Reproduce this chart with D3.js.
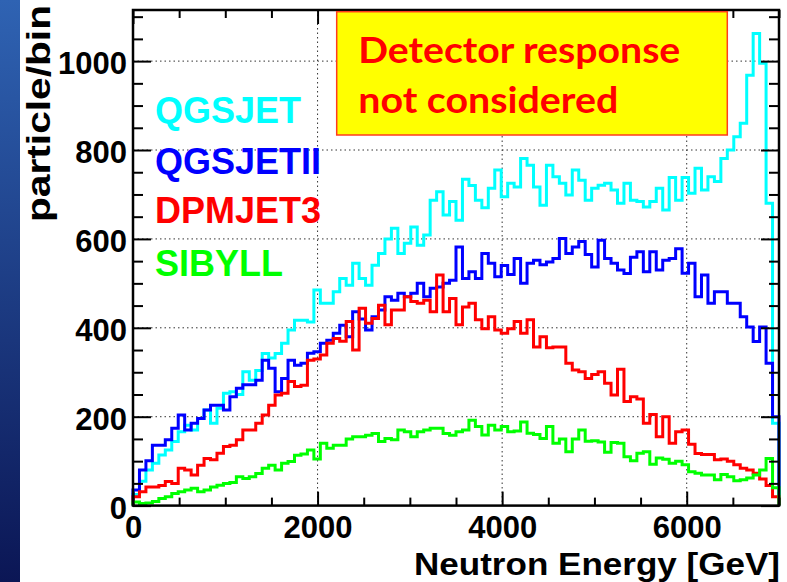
<!DOCTYPE html>
<html>
<head>
<meta charset="utf-8">
<script src="https://cdn.jsdelivr.net/npm/d3@7"></script>
<style>
  html, body { margin: 0; padding: 0; background: #ffffff; }
  svg { display: block; }
</style>
</head>
<body>
<svg id="chart" width="787" height="582"></svg>
<script>
// ---------------- data ----------------
const binWidth = 70;               // GeV per bin
const energyMax = 7000;            // GeV
const seriesNames = ["QGSJET", "QGSJETII", "DPMJET3", "SIBYLL"];
const seriesColors = ["#00ffff", "#0000ff", "#ff0000", "#00ff00"];

const qgsjet = [
  25, 55, 80, 95, 114, 125, 144, 166, 181, 170,
  196, 215, 185, 219, 253, 256, 250, 301, 282, 304,
  342, 332, 342, 365, 395, 417, 417, 413, 485, 455,
  455, 481, 511, 496, 545, 511, 496, 541, 567, 600,
  624, 567, 590, 627, 586, 609, 687, 706, 654, 684,
  642, 734, 720, 687, 670, 714, 755, 695, 725, 717,
  781, 766, 717, 676, 766, 740, 725, 699, 755, 732,
  687, 714, 721, 725, 710, 680, 725, 687, 684, 672,
  684, 714, 665, 738, 687, 738, 703, 759, 710, 740,
  729, 781, 800, 830, 860, 968, 1062, 995, 680, 185
];
const qgsjetII = [
  35, 80, 101, 136, 136, 148, 174, 204, 170, 185,
  196, 215, 226, 226, 215, 245, 264, 272, 272, 282,
  327, 309, 256, 286, 327, 316, 320, 343, 346, 365,
  372, 388, 406, 380, 436, 420, 395, 425, 440, 470,
  462, 478, 470, 478, 500, 470, 489, 492, 500, 507,
  582, 511, 526, 511, 567, 545, 515, 540, 520, 556,
  500, 545, 552, 542, 548, 556, 601, 567, 582, 594,
  565, 537, 597, 556, 545, 530, 522, 559, 571, 526,
  571, 530, 552, 556, 578, 523, 545, 470, 519, 455,
  481, 481, 455, 455, 425, 402, 369, 402, 320, 200
];
const dpmjet3 = [
  20, 31, 42, 42, 45, 54, 50, 84, 80, 69,
  91, 106, 103, 118, 133, 136, 148, 170, 170, 185,
  204, 226, 249, 253, 279, 268, 271, 327, 330, 339,
  365, 376, 370, 414, 350, 444, 410, 421, 451, 407,
  440, 440, 470, 459, 455, 462, 436, 519, 436, 466,
  407, 447, 455, 418, 398, 425, 395, 388, 398, 414,
  388, 418, 357, 380, 355, 357, 357, 320, 305, 301,
  286, 295, 301, 275, 249, 307, 234, 245, 240, 185,
  205, 155, 200, 140, 166, 170, 138, 117, 115, 115,
  103, 105, 100, 92, 84, 80, 73, 60, 45, 20
];
const sibyll = [
  8, 5, 6, 9, 16, 20, 27, 31, 35, 39,
  31, 35, 42, 46, 50, 52, 65, 61, 65, 72,
  84, 91, 80, 95, 99, 113, 116, 125, 105, 140,
  129, 136, 136, 150, 155, 155, 158, 162, 144, 151,
  148, 170, 166, 155, 166, 170, 174, 174, 162, 158,
  166, 170, 192, 178, 159, 181, 170, 178, 166, 168,
  188, 163, 160, 151, 178, 140, 150, 121, 150, 170,
  145, 146, 143, 120, 142, 140, 110, 101, 118, 121,
  93, 107, 104, 95, 100, 92, 76, 73, 69, 69,
  58, 70, 65, 56, 58, 62, 69, 80, 106, 40
];
const xMajorTicks = [0, 2000, 4000, 6000];
const yMajorTicks = [0, 200, 400, 600, 800, 1000];
const xTitle = "Neutron Energy [GeV]";
const yTitle = "particle/bin";
const noteLines = ["Detector response", "not considered"];

// ---------------- layout ----------------
const svg = d3.select("#chart");
const W = 787, H = 582;
const plot = { left: 133, right: 779, top: 10, bottom: 505.6 };
const yMax = 1115;

const x = d3.scaleLinear().domain([0, energyMax]).range([plot.left, plot.right]);
const y = d3.scaleLinear().domain([0, yMax]).range([plot.bottom, plot.top]);

// background strip on the left (slide background)
const defs = svg.append("defs");
const grad = defs.append("linearGradient").attr("id", "slideGrad")
  .attr("x1", 0).attr("y1", 0).attr("x2", 0).attr("y2", 1);
grad.append("stop").attr("offset", "0%").attr("stop-color", "#2f63b3");
grad.append("stop").attr("offset", "100%").attr("stop-color", "#0b1655");
svg.append("rect").attr("x", 0).attr("y", 0).attr("width", W).attr("height", H).attr("fill", "#ffffff");
svg.append("rect").attr("x", 0).attr("y", 0).attr("width", 20).attr("height", H).attr("fill", "url(#slideGrad)");

// grid
const gridG = svg.append("g");
gridG.selectAll("line.gx").data(xMajorTicks.filter(d => d > 0)).join("line")
  .attr("x1", d => x(d)).attr("x2", d => x(d))
  .attr("y1", plot.top).attr("y2", plot.bottom)
  .attr("stroke", "#333").attr("stroke-width", 1).attr("stroke-dasharray", "1.5,3");
gridG.selectAll("line.gy").data(yMajorTicks.filter(d => d > 0)).join("line")
  .attr("x1", plot.left).attr("x2", plot.right)
  .attr("y1", d => y(d)).attr("y2", d => y(d))
  .attr("stroke", "#333").attr("stroke-width", 1).attr("stroke-dasharray", "1.5,3");

// histograms
const allSeries = [qgsjet, qgsjetII, dpmjet3, sibyll];
const line = d3.line().x(d => x(d[0])).y(d => y(d[1])).curve(d3.curveStepAfter);
allSeries.forEach((vals, k) => {
  const pts = [[0, 0]];
  vals.forEach((v, i) => pts.push([i * binWidth, v]));
  pts.push([energyMax, vals[vals.length - 1]]);
  pts.push([energyMax, 0]);
  svg.append("path").datum(pts)
    .attr("d", line)
    .attr("fill", "none")
    .attr("stroke", seriesColors[k])
    .attr("stroke-width", 3)
    .attr("stroke-linejoin", "miter");
});

// axes (ROOT style ticks inside frame)
const fontFam = "'Liberation Sans', Arial, Helvetica, sans-serif";
const yMinor = d3.range(0, yMax, 50).filter(v => !yMajorTicks.includes(v));
const xMinor = d3.range(0, energyMax + 1, 500).filter(v => !xMajorTicks.includes(v));

function styleAxis(g) {
  g.select(".domain").remove();
  g.selectAll(".tick line").attr("stroke", "#000").attr("stroke-width", 2);
}

svg.append("g").attr("transform", `translate(${plot.left},0)`)
  .call(d3.axisLeft(y).tickValues(yMajorTicks).tickSize(-18).tickPadding(6).tickFormat(d3.format("d")))
  .call(styleAxis)
  .call(g => g.selectAll("text").attr("font-family", fontFam).attr("font-weight", "bold")
    .attr("font-size", 31).attr("fill", "#000").attr("dy", "0.40em"));
svg.append("g").attr("transform", `translate(${plot.left},0)`)
  .call(d3.axisLeft(y).tickValues(yMinor).tickSize(-10).tickFormat(""))
  .call(styleAxis);
svg.append("g").attr("transform", `translate(${plot.right},0)`)
  .call(d3.axisRight(y).tickValues(yMajorTicks).tickSize(-18).tickFormat(""))
  .call(styleAxis);
svg.append("g").attr("transform", `translate(${plot.right},0)`)
  .call(d3.axisRight(y).tickValues(yMinor).tickSize(-10).tickFormat(""))
  .call(styleAxis);

svg.append("g").attr("transform", `translate(0,${plot.bottom})`)
  .call(d3.axisBottom(x).tickValues(xMajorTicks).tickSize(-14).tickPadding(4).tickFormat(d3.format("d")))
  .call(styleAxis)
  .call(g => g.selectAll("text").attr("font-family", fontFam).attr("font-weight", "bold")
    .attr("font-size", 31).attr("fill", "#000").attr("dy", "0.92em"));
svg.append("g").attr("transform", `translate(0,${plot.bottom})`)
  .call(d3.axisBottom(x).tickValues(xMinor).tickSize(-8).tickFormat(""))
  .call(styleAxis);
svg.append("g").attr("transform", `translate(0,${plot.top})`)
  .call(d3.axisTop(x).tickValues(xMajorTicks).tickSize(-14).tickFormat(""))
  .call(styleAxis);
svg.append("g").attr("transform", `translate(0,${plot.top})`)
  .call(d3.axisTop(x).tickValues(xMinor).tickSize(-8).tickFormat(""))
  .call(styleAxis);

// frame
svg.append("rect")
  .attr("x", plot.left).attr("y", plot.top)
  .attr("width", plot.right - plot.left).attr("height", plot.bottom - plot.top)
  .attr("fill", "none").attr("stroke", "#000").attr("stroke-width", 2.5);

// axis titles
svg.append("text")
  .attr("transform", "translate(50,222) rotate(-90)")
  .attr("font-family", fontFam).attr("font-weight", "bold").attr("font-size", 34)
  .attr("textLength", 217).attr("lengthAdjust", "spacingAndGlyphs")
  .attr("fill", "#000").text(yTitle);
svg.append("text")
  .attr("x", 780).attr("y", 575).attr("text-anchor", "end")
  .attr("font-family", fontFam).attr("font-weight", "bold").attr("font-size", 32)
  .attr("textLength", 366).attr("lengthAdjust", "spacingAndGlyphs")
  .attr("fill", "#000").text(xTitle);

// legend labels
const legendY = [122.7, 174.3, 222.7, 276];
seriesNames.forEach((name, k) => {
  svg.append("text")
    .attr("x", 155).attr("y", legendY[k])
    .attr("font-family", fontFam).attr("font-weight", "bold").attr("font-size", 36)
    .attr("fill", seriesColors[k]).text(name);
});

// note box
svg.append("rect")
  .attr("x", 336.7).attr("y", 11.7).attr("width", 727.3 - 336.7).attr("height", 135 - 11.7)
  .attr("fill", "#ffff00").attr("stroke", "#ff3c1e").attr("stroke-width", 1.5);
const noteY = [63.3, 113.3];
const noteLen = [322, 260];
noteLines.forEach((t, i) => {
  svg.append("text")
    .attr("x", 358.3).attr("y", noteY[i])
    .attr("font-family", "Lato, 'Open Sans', sans-serif").attr("font-weight", "bold").attr("font-size", 36)
    .attr("textLength", noteLen[i]).attr("lengthAdjust", "spacingAndGlyphs")
    .attr("fill", "#ff0000").text(t);
});
</script>
</body>
</html>
